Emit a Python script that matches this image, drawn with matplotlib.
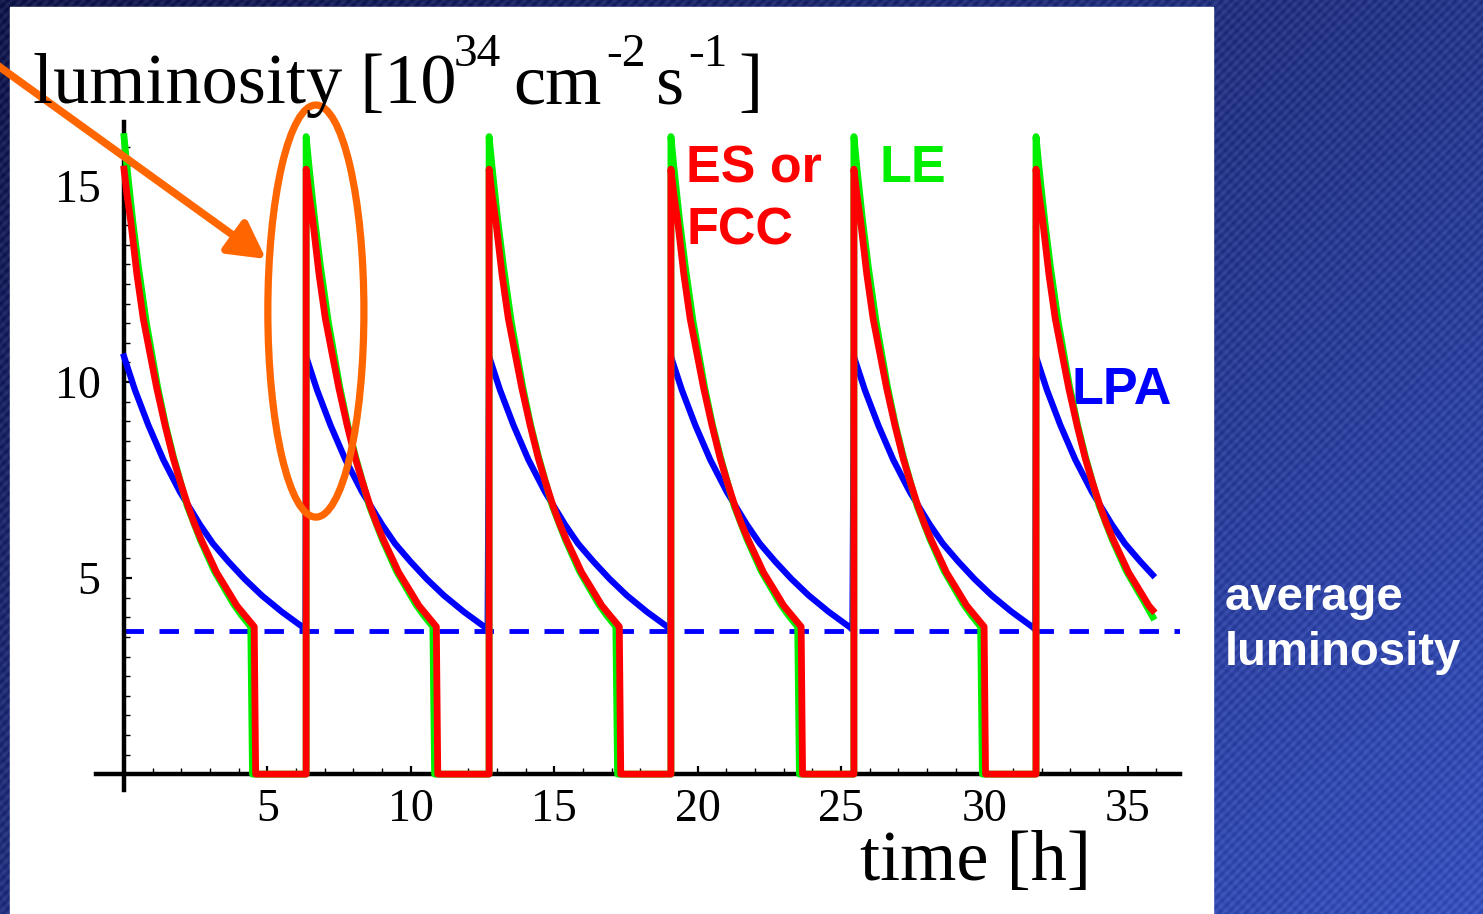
import numpy as np
import matplotlib.pyplot as plt
from matplotlib.patches import Ellipse, Rectangle

# start of every fill [h] and where the plot stops
fill_starts = [0.0, 6.35, 12.73, 19.07, 25.45, 31.80]
t_stop = 35.87

# one fill: time since fill start [h], luminosity [1e34]
es_t = [0.0, 0.10, 0.23, 0.45, 0.67, 0.90, 1.14, 1.43, 1.72, 1.95, 2.24, 2.45,
        2.71, 3.00, 3.23, 3.55, 3.93, 4.20, 4.54]
es_l = [15.43, 14.80, 14.13, 12.75, 11.62, 10.75, 9.85, 8.90, 8.05, 7.48, 6.82, 6.40,
        5.95, 5.50, 5.14, 4.76, 4.30, 4.06, 3.76]
es_dump = 4.59
es_last = 4.18

le_t = [0.0, 0.10, 0.30, 0.50, 0.77, 1.17, 1.45, 1.72, 2.20, 2.66, 3.15, 3.81, 4.10, 4.42]
le_l = [16.26, 15.50, 14.13, 12.95, 11.55, 9.88, 8.90, 8.10, 6.85, 5.98, 5.18, 4.35, 4.05, 3.76]
le_dump = 4.48
le_last = 4.01

lpa_t = [0.0, 0.38, 0.85, 1.37, 1.95, 2.65, 3.10, 3.64, 4.20, 4.80, 5.50, 6.25, 6.33]
lpa_l = [10.65, 9.80, 8.90, 8.02, 7.20, 6.36, 5.88, 5.42, 4.98, 4.56, 4.14, 3.74, 3.68]
lpa_last = 5.08

avg_lumi = 3.65

x_ticks = [5, 10, 15, 20, 25, 30, 35]
y_ticks = [5, 10, 15]


def build(prof_t, prof_l, last_l, dump=None):
    ts, ls = [], []
    for i, s in enumerate(fill_starts):
        last = i == len(fill_starts) - 1
        for t, l in zip(prof_t, prof_l):
            if last and s + t > t_stop:
                break
            ts.append(s + t)
            ls.append(l)
        if last:
            ts.append(t_stop)
            ls.append(last_l)
        elif dump is not None:
            ts += [s + dump, fill_starts[i + 1]]
            ls += [0.0, 0.0]
    return ts, ls


W, H = 1483, 914
fig = plt.figure(figsize=(W / 100, H / 100), dpi=100)

# slide background
bg = fig.add_axes([0, 0, 1, 1], zorder=-10)
yy, xx = np.mgrid[0:H, 0:W]
fx, fy = xx / W, yy / H
c0 = np.array([0.08, 0.10, 0.30])
c1 = np.array([0.22, 0.32, 0.74])
mix = np.clip(0.55 * fx + 0.45 * fy, 0, 1)[..., None]
img = c0 * (1 - mix) + c1 * mix
img += 0.035 * np.sin(2 * np.pi * (xx + yy) / 9.0)[..., None]
img += 0.015 * np.sin(2 * np.pi * (xx - yy) / 13.0)[..., None]
bg.imshow(np.clip(img, 0, 1), extent=[0, W, H, 0], aspect='auto', interpolation='nearest')
bg.add_patch(Rectangle((10, 7), 1203, 920, color='white', zorder=2))
bg.set_xlim(0, W)
bg.set_ylim(H, 0)
bg.axis('off')

ax = fig.add_axes([0.06467, 0.13545, 0.7310, 0.73096])
ax.set_facecolor('none')
ax.set_xlim(-0.98, 36.82)
ax.set_ylim(-0.41, 16.63)

ax.axhline(avg_lumi, xmin=0.98 / 37.8, color='#0000ff', lw=3.5, dashes=(4, 3.2))
t, l = build(lpa_t, lpa_l, lpa_last)
ax.plot(t, l, color='#0000ff', lw=4.5, zorder=3)
t, l = build(le_t, le_l, le_last, le_dump)
ax.plot(t, l, color='#00ee00', lw=4.9, zorder=4)
t, l = build(es_t, es_l, es_last, es_dump)
ax.plot(t, l, color='#ff0000', lw=4.9, zorder=5)

for side in ['top', 'right']:
    ax.spines[side].set_visible(False)
ax.spines['left'].set_position(('data', 0))
ax.spines['bottom'].set_position(('data', 0))
for side in ['left', 'bottom']:
    ax.spines[side].set_linewidth(3.2)
    ax.spines[side].set_zorder(2)

ax.set_xticks(x_ticks)
ax.set_yticks(y_ticks)
ax.set_xticks(np.arange(1, 37), minor=True)
ax.set_yticks(np.arange(0.5, 16.5, 0.5), minor=True)
ax.tick_params(which='major', direction='in', length=6, width=1.6, labelsize=33)
ax.tick_params(which='minor', direction='in', length=4, width=1.0)
ax.tick_params(axis='y', which='major', pad=17)
ax.tick_params(axis='x', which='major', pad=10)
for lab in ax.get_xticklabels() + ax.get_yticklabels():
    lab.set_fontfamily('Liberation Serif')

# series labels
lbl = dict(fontsize=37.5, fontweight='bold', family='Liberation Sans', va='baseline')
ax.text(19.6, 15.10, 'ES or', color='#ff0000', **lbl)
ax.text(19.6, 13.52, 'FCC', color='#ff0000', **lbl)
ax.text(26.36, 15.10, 'LE', color='#00ee00', **lbl)
ax.text(33.05, 9.44, 'LPA', color='#0000ff', **lbl)

# highlight of one fill
ax.add_patch(Ellipse((6.69, 11.81), 3.35, 10.51, fill=False, ec='#ff6600', lw=5.2,
                     clip_on=False, zorder=6))
ax.annotate('', xy=(266, H - 259), xycoords='figure pixels',
            xytext=(-10, H - 60), textcoords='figure pixels',
            arrowprops=dict(arrowstyle='-|>,head_length=0.55,head_width=0.3',
                            color='#ff6600', lw=5.5, mutation_scale=40, shrinkA=0, shrinkB=0),
            annotation_clip=False, zorder=7)

# axis titles
serif = dict(family='Liberation Serif', va='baseline', ha='left')
fig.text(33 / W, 1 - 103 / H, 'luminosity [10', fontsize=52, **serif)
fig.text(454 / W, 1 - 66 / H, '34', fontsize=34, **serif)
fig.text(513 / W, 1 - 103 / H, 'cm', fontsize=52, **serif)
fig.text(606 / W, 1 - 66 / H, '-2', fontsize=34, **serif)
fig.text(656 / W, 1 - 103 / H, 's', fontsize=52, **serif)
fig.text(688 / W, 1 - 66 / H, '-1', fontsize=34, **serif)
fig.text(738 / W, 1 - 103 / H, ']', fontsize=52, **serif)
fig.text(860 / W, 1 - 880 / H, 'time [h]', fontsize=52, **serif)

wlbl = dict(color='white', fontsize=34, fontweight='bold', family='Liberation Sans',
            va='baseline')
fig.text(1225 / W, 1 - 610 / H, 'average', **wlbl)
fig.text(1225 / W, 1 - 665 / H, 'luminosity', **wlbl)

fig.savefig('out.png', dpi=100)
